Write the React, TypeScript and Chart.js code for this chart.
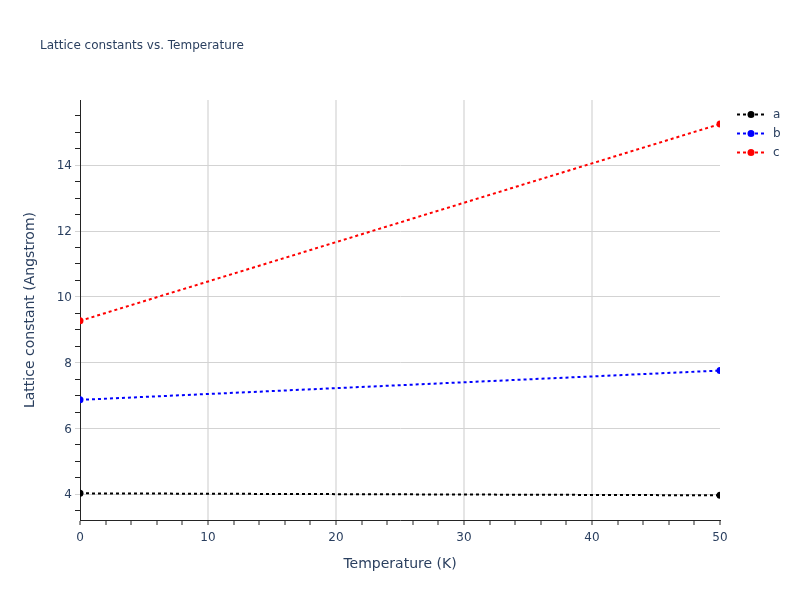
import React, { useEffect, useRef } from "react";
import { Chart, registerables } from "chart.js";

Chart.register(...registerables);

const temperatures = [0, 50];
const aValues = [4.03, 3.97];
const bValues = [6.87, 7.76];
const cValues = [9.27, 15.25];
const seriesNames = ["a", "b", "c"];
const seriesColors = ["#000000", "#0000ff", "#ff0000"];

const chartTitle = "Lattice constants vs. Temperature";
const xTitle = "Temperature (K)";
const yTitle = "Lattice constant (Angstrom)";

const FONT = "'DejaVu Sans', Verdana, sans-serif";
const TEXT_COLOR = "#2a3f5f";
const AXIS_COLOR = "#242424";

const overlayPlugin = {
  id: "overlay",
  afterDraw(chart: any) {
    const ctx = chart.ctx as CanvasRenderingContext2D;
    ctx.save();
    ctx.fillStyle = TEXT_COLOR;
    ctx.font = `12px ${FONT}`;
    ctx.textBaseline = "middle";
    ctx.textAlign = "left";
    ctx.fillText(chartTitle, 40, 46);

    chart.data.datasets.forEach((ds: any, i: number) => {
      const y = 114.5 + 19 * i;
      ctx.strokeStyle = ds.borderColor;
      ctx.lineWidth = 2;
      ctx.setLineDash([3, 3]);
      ctx.beginPath();
      ctx.moveTo(737, y);
      ctx.lineTo(765, y);
      ctx.stroke();
      ctx.setLineDash([]);
      ctx.fillStyle = ds.borderColor;
      ctx.beginPath();
      ctx.arc(751, y, 3.5, 0, Math.PI * 2);
      ctx.fill();
      ctx.fillStyle = TEXT_COLOR;
      ctx.font = `12px ${FONT}`;
      ctx.fillText(ds.label, 773, y);
    });
    ctx.restore();
  },
};

export default function App() {
  const ref = useRef<HTMLCanvasElement>(null);
  useEffect(() => {
    if (!ref.current) return;
    const series = [aValues, bValues, cValues];
    const chart = new Chart(ref.current, {
      type: "line",
      data: {
        datasets: series.map((vals, i) => ({
          label: seriesNames[i],
          data: temperatures.map((t, j) => ({ x: t, y: vals[j] })),
          borderColor: seriesColors[i],
          backgroundColor: seriesColors[i],
          pointBackgroundColor: seriesColors[i],
          borderWidth: 2,
          borderDash: [3, 3],
          pointRadius: 3.5,
          pointBorderWidth: 0,
          tension: 0,
          fill: false,
          clip: 0,
        })),
      },
      options: {
        responsive: false,
        animation: false,
        layout: { padding: { top: 100, right: 80, bottom: 0, left: 0 } },
        plugins: {
          legend: { display: false },
          title: { display: false },
          tooltip: { enabled: false },
        },
        scales: {
          x: {
            type: "linear",
            min: 0,
            max: 50,
            afterFit: (s: any) => {
              s.height = 80;
            },
            border: { color: AXIS_COLOR, width: 1 },
            grid: {
              color: (c: any) => {
                const v = c.tick?.value;
                return v % 10 === 0 && v !== 0 && v !== 50 ? "#e5e5e5" : "rgba(0,0,0,0)";
              },
              lineWidth: 2,
              tickColor: AXIS_COLOR,
              tickWidth: 1,
              tickLength: 5,
            },
            ticks: {
              stepSize: 2,
              autoSkip: false,
              maxRotation: 0,
              padding: 6,
              color: TEXT_COLOR,
              font: { family: FONT, size: 12 },
              callback: (v: any) => (Number(v) % 10 === 0 ? String(v) : ""),
            },
            title: {
              display: true,
              text: xTitle,
              color: TEXT_COLOR,
              font: { family: FONT, size: 14 },
              padding: { top: 0, bottom: 27 },
            },
          },
          y: {
            type: "linear",
            min: 3.22,
            max: 15.98,
            afterFit: (s: any) => {
              s.width = 80;
            },
            border: { color: AXIS_COLOR, width: 1 },
            grid: {
              color: (c: any) => {
                const v = c.tick?.value;
                return Math.abs(v % 2) < 1e-9 ? "#d3d3d3" : "rgba(0,0,0,0)";
              },
              lineWidth: 1,
              tickColor: (c: any) => {
                const v = c.tick?.value;
                return Math.abs(v % 2) < 1e-9 ? "#d3d3d3" : AXIS_COLOR;
              },
              tickWidth: 1,
              tickLength: 5,
            },
            ticks: {
              stepSize: 0.5,
              includeBounds: false,
              autoSkip: false,
              padding: 3,
              labelOffset: 1,
              color: TEXT_COLOR,
              font: { family: FONT, size: 12 },
              callback: (v: any) => (Math.abs(Number(v) % 2) < 1e-9 ? String(v) : ""),
            },
            title: {
              display: true,
              text: yTitle,
              color: TEXT_COLOR,
              font: { family: FONT, size: 14 },
              padding: { top: 22, bottom: 0 },
            },
          },
        },
      },
      plugins: [overlayPlugin],
    });
    return () => chart.destroy();
  }, []);
  return (
    <div style={{ position: "absolute", left: 0, top: 0, width: 800, height: 600, background: "#fff" }}>
      <canvas ref={ref} width={800} height={600} />
    </div>
  );
}
